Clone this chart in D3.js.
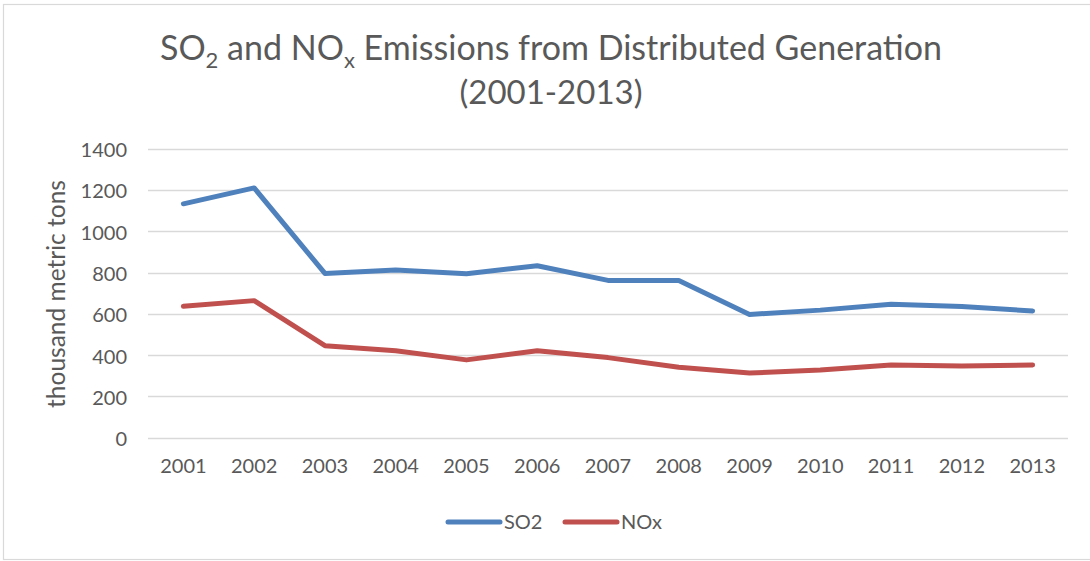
<!DOCTYPE html>
<html><head><meta charset="utf-8">
<script src="https://cdn.jsdelivr.net/npm/d3@7"></script>
<style>body{margin:0;background:#fff}svg{display:block}text{font-family:Lato,"Open Sans",sans-serif;fill:#595959}</style>
</head><body><svg id="c" width="1090" height="561"></svg>
<script>
const years = ["2001","2002","2003","2004","2005","2006","2007","2008","2009","2010","2011","2012","2013"];
const so2 = [1133, 1210, 796, 812, 794, 833, 762, 762, 597, 618, 647, 635, 614];
const nox = [637, 664, 446, 421, 377, 421, 388, 341, 313, 328, 352, 347, 352];
const yTicks = [0, 200, 400, 600, 800, 1000, 1200, 1400];
const seriesNames = ["SO2", "NOx"];
const colors = ["#4f81bd", "#c0504d"];

const svg = d3.select("#c");
svg.append("rect").attr("x",3.5).attr("y",4.5).attr("width",1090).attr("height",555)
  .attr("fill","#fff").attr("stroke","#d9d9d9").attr("stroke-width",1.2);

const x = d3.scaleBand().domain(years).range([148,1068]);
const y = d3.scaleLinear().domain([0,1400]).range([437.7,148.7]);

// gridlines
svg.append("g").selectAll("line").data(yTicks).join("line")
  .attr("x1",148).attr("x2",1068).attr("y1",d=>Math.round(y(d))+0.5).attr("y2",d=>Math.round(y(d))+0.5)
  .attr("stroke","#d9d9d9").attr("stroke-width",1.5);

// y axis
const ya = svg.append("g").attr("transform","translate(148,0)")
  .call(d3.axisLeft(y).tickValues(yTicks).tickFormat(d3.format("d")).tickSize(0).tickPadding(21));
ya.select(".domain").remove();
ya.selectAll("text").style("font-size","20px").attr("fill","#595959").style("font-family","Lato").attr("dy","0.4em");

// x axis
const xa = svg.append("g").attr("transform","translate(0,437.7)")
  .call(d3.axisBottom(x).tickSize(0).tickPadding(21));
xa.select(".domain").remove();
xa.selectAll("text").style("font-size","20px").attr("fill","#595959").style("font-family","Lato");

// axis title
svg.append("text").attr("transform","translate(65,294) rotate(-90)").attr("text-anchor","middle")
  .style("font-size","24.5px").text("thousand metric tons");

// title
const t = svg.append("text").attr("x",551).attr("y",60).attr("text-anchor","middle").style("font-size","34px");
t.append("tspan").text("SO");
t.append("tspan").attr("dy",8).style("font-size","22px").text("2");
t.append("tspan").attr("dy",-8).text(" and NO");
t.append("tspan").attr("dy",8).style("font-size","22px").text("x");
t.append("tspan").attr("dy",-8).text(" Emissions from Distributed Generation");
svg.append("text").attr("x",551).attr("y",104).attr("text-anchor","middle").style("font-size","33px").text("(2001-2013)");

// lines
const line = d3.line().x((d,i)=>x(years[i])+x.bandwidth()/2).y(d=>y(d));
[so2, nox].forEach((s,i)=>{
  svg.append("path").datum(s).attr("d",line).attr("fill","none")
    .attr("stroke",colors[i]).attr("stroke-width",5).attr("stroke-linecap","round").attr("stroke-linejoin","round");
});

// legend
const lg = [{x:448,n:0},{x:565,n:1}];
lg.forEach(o=>{
  svg.append("line").attr("x1",o.x).attr("x2",o.x+52).attr("y1",522).attr("y2",522)
    .attr("stroke",colors[o.n]).attr("stroke-width",5).attr("stroke-linecap","round");
  svg.append("text").attr("x",o.x+56).attr("y",529).style("font-size","20px").text(seriesNames[o.n]);
});
</script></body></html>
